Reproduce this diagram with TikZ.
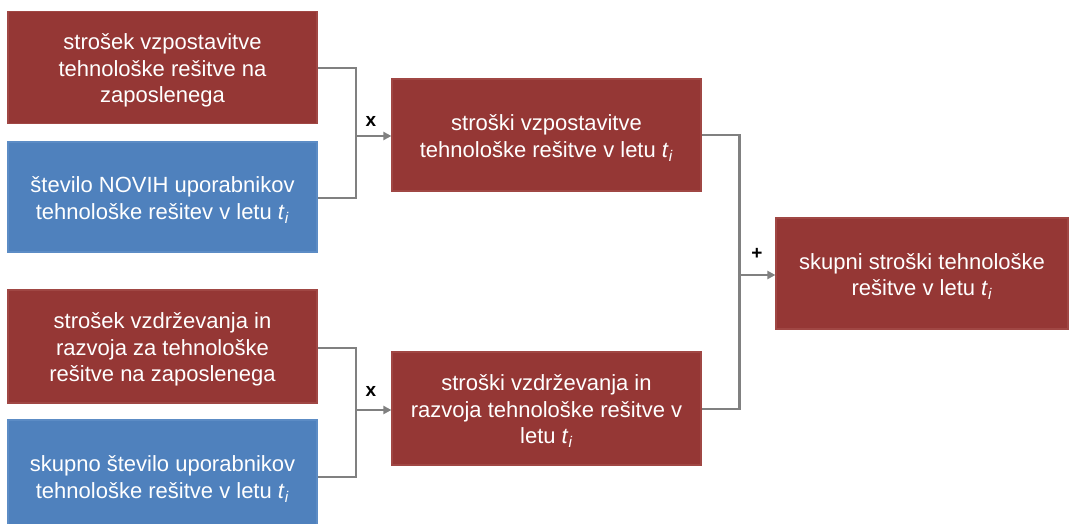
\documentclass[tikz,border=0pt]{standalone}
\usepackage{fontspec}
\setmainfont{Liberation Sans}
\usetikzlibrary{arrows.meta}
\definecolor{boxred}{HTML}{953735}
\definecolor{boxredrim}{HTML}{A04744}
\definecolor{boxblue}{HTML}{4F81BD}
\definecolor{boxbluerim}{HTML}{5C8CC5}
\definecolor{linegray}{HTML}{808080}
\newcommand{\tyear}{\textit{t}\textsubscript{\textit{i}}}
% centred block of lines, set a little below the middle of its box
\newcommand{\cardtext}[1]{\raisebox{-3.5pt}[\height][\depth]{\begin{tabular}{@{}c@{}}#1\end{tabular}}}
\begin{document}
\begin{tikzpicture}[x=1pt,y=-1pt,
  card/.style={minimum width=309pt,minimum height=112pt,inner sep=0pt,
    text=white,font=\fontsize{22}{26.5}\selectfont,line width=1.2pt},
  redcard/.style={card,fill=boxred,draw=boxredrim},
  bluecard/.style={card,fill=boxblue,draw=boxbluerim},
  link/.style={linegray,line width=2.6pt},
  arr/.style={link,-{Triangle[length=8pt,width=8pt]}},
  oplabel/.style={font=\bfseries\fontsize{19}{19}\selectfont,inner sep=0pt}]
\useasboundingbox (0,0) rectangle (1070,524);
\fill[white] (0,0) rectangle (1070,524);

% input boxes
\node[redcard]  (setupcost) at (162.5,67.5) {\cardtext{strošek vzpostavitve\\tehnološke rešitve na\\zaposlenega}};
\node[bluecard, minimum height=110pt] (newusers) at (162.5,197) {\cardtext{število NOVIH uporabnikov\\tehnološke rešitev v letu \tyear}};
\node[redcard, minimum height=113pt] (maintcost) at (162.5,346.5) {\cardtext{strošek vzdrževanja in\\razvoja za tehnološke\\rešitve na zaposlenega}};
\node[bluecard] (allusers) at (162.5,476) {\cardtext{skupno število uporabnikov\\tehnološke rešitve v letu \tyear}};

% intermediate results
\node[redcard] (setupyear) at (546.5,135) {\cardtext{stroški vzpostavitve\\tehnološke rešitve v letu \tyear}};
\node[redcard, minimum height=113pt] (maintyear) at (546.5,408.5) {\cardtext{stroški vzdrževanja in\\razvoja tehnološke rešitve v\\letu \tyear}};

% total
\node[redcard, minimum width=292pt, minimum height=111pt] (total) at (922,273.5) {\cardtext{skupni stroški tehnološke\\rešitve v letu \tyear}};

% junction points
\coordinate (j1) at (356,136);
\coordinate (j2) at (356,410);
\coordinate (j3) at (739.5,275);

% multiplication: setup
\draw[link] (setupcost.east |- 0,68) -| (j1) |- (newusers.east |- 0,198);
\draw[arr] (j1) -- (setupyear.west |- j1);
\node[oplabel] (mul1) at (371,121) {x};

% multiplication: maintenance
\draw[link] (maintcost.east |- 0,348) -| (j2) |- (allusers.east |- 0,477);
\draw[arr] (j2) -- (maintyear.west |- j2);
\node[oplabel] (mul2) at (371,391) {x};

% sum
\draw[link] (setupyear.east) -| (j3) |- (maintyear.east |- 0,409);
\draw[arr] (j3) -- (total.west |- j3);
\node[oplabel] (sum) at (757,254) {+};
\end{tikzpicture}
\end{document}
